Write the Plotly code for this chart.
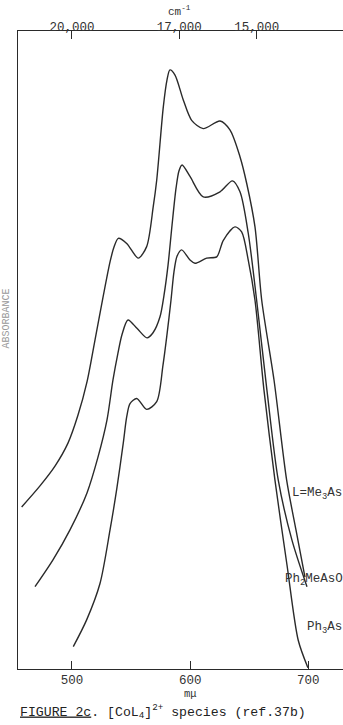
import plotly.graph_objects as go

# Wavelength (m\u03bc) and absorbance (arbitrary units)
me3as_wl = [457.4, 472.9, 485.6, 496.6, 505.1, 512.7, 519.5, 526.2, 532.2, 535.5, 539.2, 546.3,
            556.1, 563.2, 568.8, 571.7, 577.3, 580.4, 582.9, 587.2, 594.2, 601.3, 611.1, 625.3,
            633.7, 642.2, 647.9, 654.9, 660.6, 671.0, 681.7, 689.6, 697.2]
me3as_ab = [0.254, 0.287, 0.318, 0.354, 0.398, 0.450, 0.516, 0.582, 0.638, 0.661, 0.675, 0.667,
            0.644, 0.662, 0.725, 0.766, 0.881, 0.923, 0.939, 0.931, 0.892, 0.860, 0.847, 0.859,
            0.845, 0.803, 0.761, 0.693, 0.578, 0.453, 0.296, 0.218, 0.144]

ph2measo_wl = [468.7, 483.9, 498.3, 512.7, 522.0, 529.6, 534.7, 538.9, 542.3, 547.4, 555.0, 563.5,
               568.6, 574.5, 577.9, 581.3, 584.7, 588.1, 590.6, 593.2, 599.9, 611.1, 625.3, 635.8,
               642.2, 649.2, 656.3, 665.0, 674.6, 686.2, 698.9]
ph2measo_ab = [0.129, 0.171, 0.218, 0.276, 0.332, 0.390, 0.453, 0.495, 0.524, 0.547, 0.534, 0.519,
               0.527, 0.552, 0.586, 0.633, 0.696, 0.754, 0.781, 0.790, 0.772, 0.740, 0.748, 0.765,
               0.748, 0.683, 0.578, 0.437, 0.296, 0.202, 0.129]

ph3as_wl = [501.1, 512.4, 523.7, 532.2, 537.8, 543.4, 546.3, 549.1, 554.8, 563.2, 571.7, 577.0,
            580.4, 583.8, 586.3, 588.9, 592.8, 599.9, 604.1, 614.0, 622.5, 628.1, 638.0, 643.6,
            649.2, 654.9, 662.5, 671.8, 682.0, 691.5, 699.7]
ph3as_ab = [0.035, 0.077, 0.134, 0.218, 0.281, 0.354, 0.395, 0.416, 0.424, 0.407, 0.419, 0.476,
            0.524, 0.578, 0.622, 0.647, 0.657, 0.641, 0.636, 0.644, 0.646, 0.672, 0.693, 0.685,
            0.641, 0.578, 0.437, 0.296, 0.163, 0.045, 0.002]

bottom_ticks = [500, 600, 700]
bottom_labels = ["500", "600", "700"]
top_ticks = [500, 590.7, 656.4]
top_labels = ["20,000", "17,000", "15,000"]

FONT = "Liberation Mono, Courier New, monospace"
INK = "#2a2a2a"

fig = go.Figure()
for wl, ab in [(me3as_wl, me3as_ab), (ph2measo_wl, ph2measo_ab), (ph3as_wl, ph3as_ab)]:
    fig.add_trace(go.Scatter(x=wl, y=ab, mode="lines",
                             line=dict(color=INK, width=1.4, shape="spline", smoothing=0.8),
                             hoverinfo="skip", showlegend=False))
# invisible trace to anchor the top (wavenumber) axis
fig.add_trace(go.Scatter(x=[bottom_ticks[0]], y=[0], xaxis="x2", mode="markers",
                         marker=dict(opacity=0), hoverinfo="skip", showlegend=False))

xr = [454.3, 729.4]
fig.update_layout(
    width=343, height=725,
    margin=dict(l=18, r=0, t=31, b=56),
    paper_bgcolor="white", plot_bgcolor="white",
    font=dict(family=FONT, size=12, color="#333"),
    xaxis=dict(range=xr, tickmode="array", tickvals=bottom_ticks, ticktext=bottom_labels,
               ticks="inside", ticklen=8, tickcolor=INK, tickwidth=1.2, ticklabelstandoff=-1,
               showline=True, linecolor=INK, linewidth=1.3, showgrid=False, zeroline=False,
               tickfont=dict(family=FONT, size=12.5, color="#333")),
    xaxis2=dict(range=xr, overlaying="x", side="top", anchor="y", tickmode="array",
                tickvals=top_ticks, ticktext=top_labels, ticklabelstandoff=-6,
                ticks="inside", ticklen=8, tickcolor=INK, tickwidth=1.2,
                showline=True, linecolor=INK, linewidth=1.3, showgrid=False, zeroline=False,
                tickfont=dict(family=FONT, size=12.5, color="#333")),
    yaxis=dict(range=[0, 1], showticklabels=False, ticks="", showline=True, linecolor=INK,
               linewidth=1.3, showgrid=False, zeroline=False),
)

ann = [
    dict(text="ABSORBANCE", x=-0.036, y=0.55, xref="paper", yref="paper", textangle=-90,
         font=dict(size=10, color="#999"), showarrow=False, xanchor="center", yanchor="middle"),
    dict(text="cm<sup>-1</sup>", x=591, y=1.032, xref="x", yref="paper",
         showarrow=False, xanchor="center", yanchor="middle", font=dict(size=11)),
    dict(text="m\u03bc", x=600, y=-0.0385, xref="x", yref="paper",
         showarrow=False, xanchor="center", yanchor="middle", font=dict(size=10.5)),
    dict(text="<u>FIGURE 2c</u>. [CoL<sub>4</sub>]<sup>2+</sup> species (ref.37b)",
         x=0.0, y=-0.066, xref="paper", yref="paper", showarrow=False,
         xanchor="left", yanchor="middle", font=dict(size=13.2, color="#222")),
    dict(text="L=Me<sub>3</sub>As", x=684.5, y=0.274, xref="x", yref="y",
         showarrow=False, xanchor="left", yanchor="middle", font=dict(size=12.5)),
    dict(text="Ph<sub>2</sub>MeAsO", x=678.6, y=0.139, xref="x", yref="y",
         showarrow=False, xanchor="left", yanchor="middle", font=dict(size=12.5)),
    dict(text="Ph<sub>3</sub>As", x=697.2, y=0.064, xref="x", yref="y",
         showarrow=False, xanchor="left", yanchor="middle", font=dict(size=12.5)),
]
fig.update_layout(annotations=ann)

fig.write_html("out.html")
